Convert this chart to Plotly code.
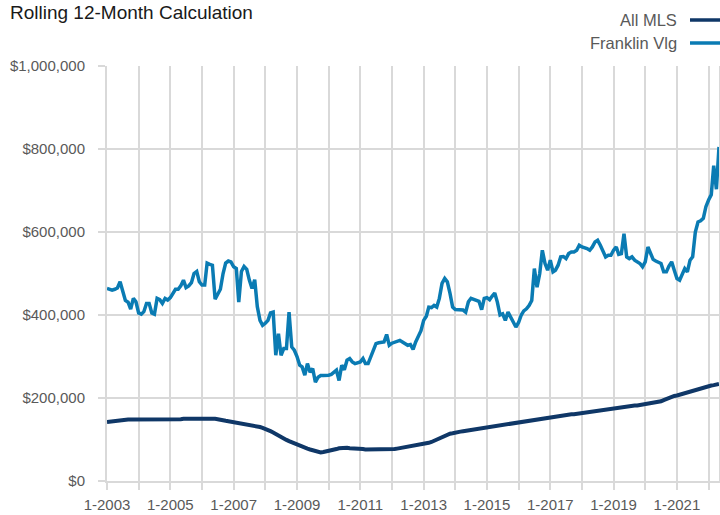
import plotly.graph_objects as go
import pandas as pd

# Monthly dates Jan 2003 .. May 2022
start_month = "2003-01-01"
n_months = 233

all_mls = [
    # 2003
    142, 143, 144, 145, 146, 147, 147, 148, 148, 148, 148, 148,
    # 2004
    147, 148, 148, 148, 147, 148, 148, 148, 148, 149, 149, 149,
    # 2005
    149, 149, 149, 149, 149, 150, 150, 150, 150, 151, 151, 151,
    # 2006
    151, 152, 152, 152, 151, 150, 149, 147, 146, 145, 144, 143,
    # 2007
    142, 141, 140, 139, 138, 137, 136, 135, 134, 132, 130, 128,
    # 2008
    126, 123, 120, 117, 113, 110, 106, 102, 99, 96, 93, 91,
    # 2009
    89, 86, 83, 80, 78, 76, 74, 72, 70, 69, 70, 71,
    # 2010
    73, 74, 75, 77, 79, 80, 80, 80, 79, 79, 78, 78,
    # 2011
    78, 77, 76, 76, 75, 75, 75, 75, 75, 76, 76, 76,
    # 2012
    77, 77, 78, 79, 80, 81, 82, 83, 84, 85, 86, 87,
    # 2013
    88, 90, 92, 94, 97, 100, 103, 106, 109, 112, 114, 115,
    # 2014
    117, 118, 119, 120, 121, 122, 123, 125, 126, 127, 128, 129,
    # 2015
    131, 132, 133, 134, 135, 136, 136, 137, 138, 139, 140, 141,
    # 2016
    142, 143, 144, 145, 146, 147, 148, 149, 150, 151, 152, 153,
    # 2017
    154, 154, 155, 156, 157, 158, 159, 160, 161, 161, 162, 163,
    # 2018
    164, 165, 166, 167, 168, 168, 169, 170, 171, 172, 172, 173,
    # 2019
    174, 175, 176, 177, 178, 179, 180, 181, 182, 182, 183, 184,
    # 2020
    184, 185, 186, 187, 188, 189, 192, 195, 198, 201, 203, 205,
    # 2021
    206, 208, 210, 212, 214, 216, 218, 220, 222, 224, 226, 227,
    # 2022
    228, 230, 231, 233, 234,
]

franklin_vlg = [
    # 2003
    464, 461, 460, 462, 465, 480, 455, 435, 431, 414, 440, 432,
    # 2004
    405, 402, 408, 428, 428, 405, 402, 440, 437, 428, 440, 436,
    # 2005
    442, 452, 462, 462, 470, 484, 466, 470, 478, 500, 505, 480,
    # 2006
    472, 472, 525, 522, 520, 438, 452, 462, 500, 525, 530, 528,
    # 2007
    516, 512, 431, 505, 517, 510, 484, 464, 485, 420, 387, 375,
    # 2008
    380, 387, 405, 407, 303, 355, 303, 319, 319, 407, 323, 315,
    # 2009
    300, 279, 275, 255, 283, 262, 271, 238, 250, 254, 254, 254,
    # 2010
    255, 257, 262, 267, 242, 279, 268, 291, 295, 287, 283, 285,
    # 2011
    287, 295, 283, 283, 300, 319, 331, 333, 335, 335, 353, 327,
    # 2012
    332, 335, 337, 339, 335, 331, 327, 329, 317, 335, 351, 362,
    # 2013
    387, 397, 419, 418, 423, 419, 440, 476, 488, 480, 452, 419,
    # 2014
    413, 413, 413, 412, 407, 432, 440, 438, 435, 433, 413, 440,
    # 2015
    442, 437, 445, 453, 431, 400, 403, 387, 407, 395, 387, 371,
    # 2016
    382, 400, 410, 415, 423, 435, 512, 467, 500, 556, 524, 508,
    # 2017
    532, 504, 508, 520, 540, 541, 536, 548, 552, 552, 556, 568,
    # 2018
    564, 563, 560, 556, 564, 576, 580, 568, 556, 540, 544, 544,
    # 2019
    556, 564, 546, 548, 596, 540, 536, 540, 532, 528, 524, 516,
    # 2020
    528, 564, 548, 534, 530, 528, 524, 504, 504, 518, 528, 508,
    # 2021
    488, 484, 496, 512, 504, 532, 540, 600, 624, 627, 633, 661,
    # 2022
    677, 690, 760, 703, 805,
]

series_names = ["All MLS", "Franklin Vlg"]
series_colors = ["#0f3767", "#0a7bb3"]

dates = pd.date_range(start_month, periods=n_months, freq="MS")
mls_vals = [v * 1000 for v in all_mls]
fv_vals = [v * 1000 for v in franklin_vlg]

tick_years = list(range(2003, 2023))
tick_vals = [f"{y}-01-01" for y in tick_years]
tick_text = [f"1-{y}" if (y - 2003) % 2 == 0 else "" for y in tick_years]

y_ticks = [0, 200000, 400000, 600000, 800000, 1000000]

FONT = "Liberation Sans, Arial, Helvetica, sans-serif"
GRID = "#d9d9d9"

fig = go.Figure()
fig.add_trace(go.Scatter(x=dates, y=mls_vals, mode="lines", name=series_names[0],
                         line=dict(color=series_colors[0], width=4), showlegend=False))
fig.add_trace(go.Scatter(x=dates, y=fv_vals, mode="lines", name=series_names[1],
                         line=dict(color=series_colors[1], width=3.5), showlegend=False))

fig.update_layout(
    width=720, height=515,
    margin=dict(l=107, r=1, t=66, b=34),
    paper_bgcolor="white", plot_bgcolor="white",
    font=dict(family=FONT, color="#595959", size=15),
    showlegend=False,
    hovermode=False,
    xaxis=dict(
        type="date",
        range=[dates[0], dates[-1]],
        tickmode="array", tickvals=tick_vals, ticktext=tick_text,
        showgrid=True, gridcolor=GRID, gridwidth=2,
        ticks="outside", ticklen=7, tickcolor=GRID, tickwidth=2,
        showline=True, linecolor=GRID, linewidth=2,
        zeroline=False, automargin=False,
        tickfont=dict(size=15, color="#595959"),
        ticklabelstandoff=2,
    ),
    yaxis=dict(
        range=[0, 1000000],
        tickmode="array", tickvals=y_ticks,
        tickformat="$,.0f",
        showgrid=True, gridcolor=GRID, gridwidth=2,
        ticks="outside", ticklen=7, tickcolor=GRID, tickwidth=2,
        showline=True, linecolor=GRID, linewidth=2, mirror=True,
        zeroline=False, automargin=False,
        tickfont=dict(size=15, color="#595959"),
        ticklabelstandoff=10,
    ),
)

# Title
fig.add_annotation(text="Rolling 12-Month Calculation", xref="paper", yref="paper",
                   x=0, y=1, xanchor="left", yanchor="middle", xshift=-99, yshift=54,
                   showarrow=False, font=dict(size=19, color="#1a1a1a", family=FONT))

# Custom legend: text then line on the right
legend_offsets = [46, 23]
for name, color, off in zip(series_names, series_colors, legend_offsets):
    fig.add_annotation(text=name, xref="paper", yref="paper", x=1, y=1,
                       xanchor="right", yanchor="middle", xshift=-40, yshift=off,
                       showarrow=False, font=dict(size=16.5, color="#595959", family=FONT))
    fig.add_shape(type="line", xref="paper", yref="paper",
                  xsizemode="pixel", ysizemode="pixel", xanchor=1, yanchor=1,
                  x0=-29, x1=1, y0=off, y1=off,
                  line=dict(color=color, width=3.5))

fig.write_html("out.html",
               config={"displayModeBar": False, "staticPlot": True},
               post_script="document.body.style.margin='0px';document.body.style.overflow='hidden';")
